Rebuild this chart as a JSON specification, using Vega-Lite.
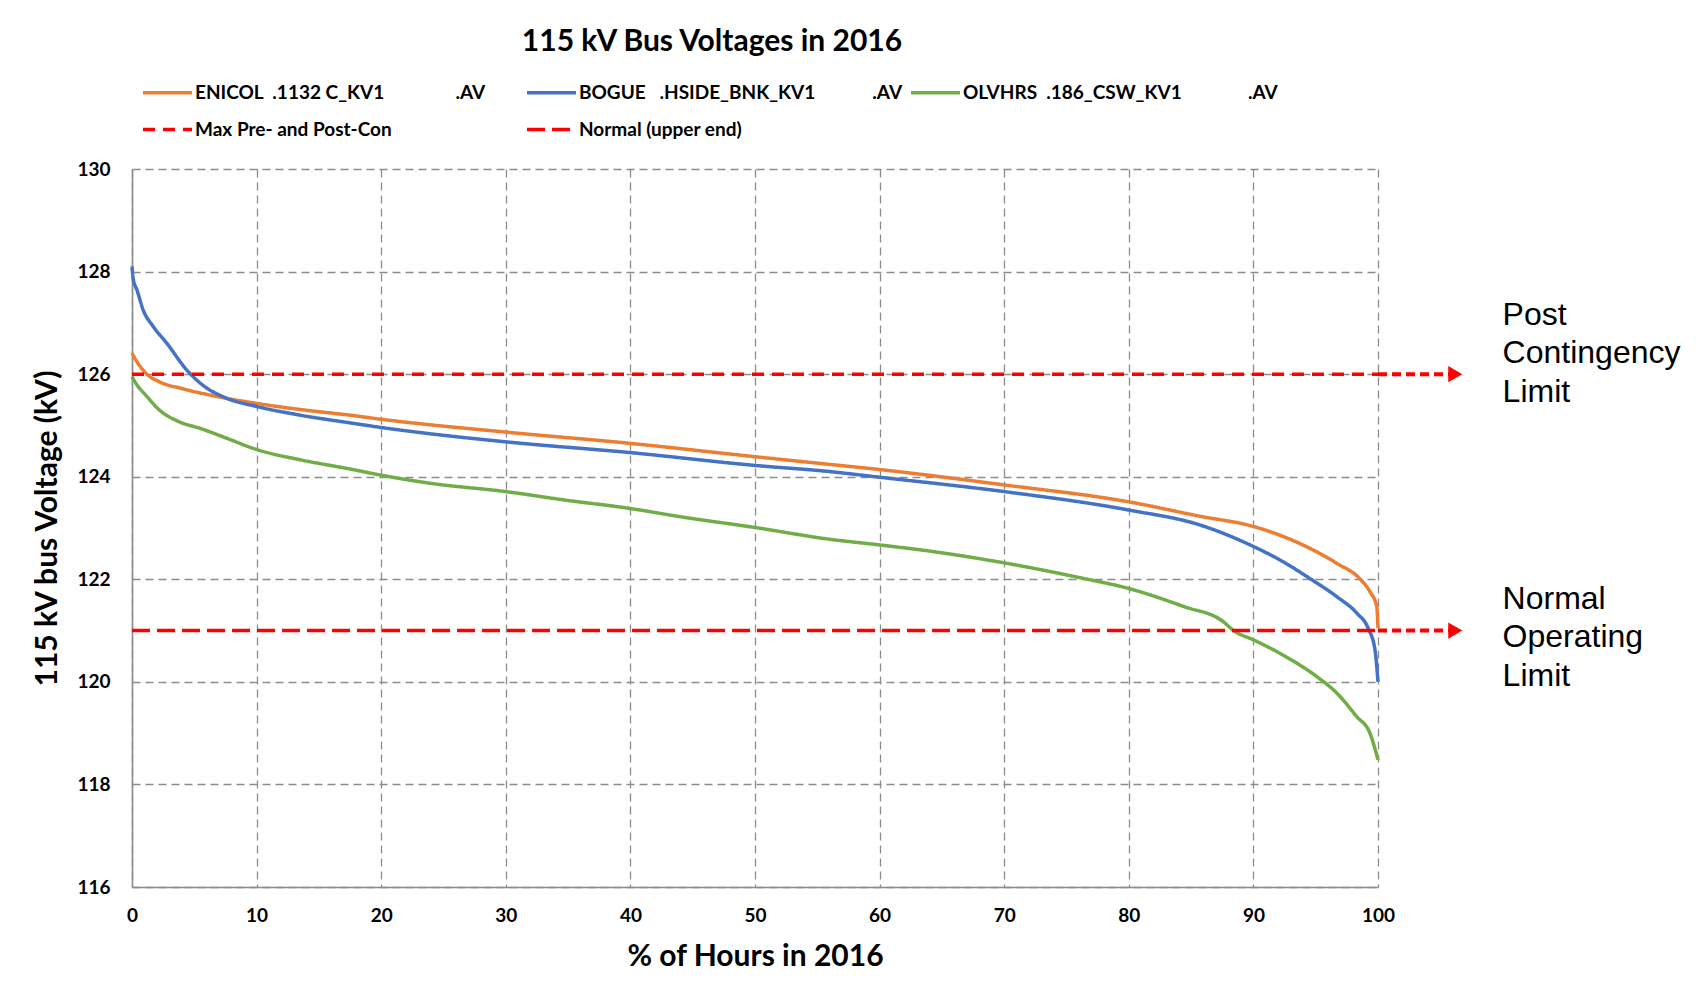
{
  "$schema": "https://vega.github.io/schema/vega-lite/v6.json",
  "width": 1246,
  "height": 718,
  "autosize": {"type": "none"},
  "padding": {"left": 132, "top": 169, "right": 323, "bottom": 105},
  "background": "white",
  "config": {
    "font": "Lato",
    "view": {"stroke": null},
    "axis": {
      "grid": true,
      "gridColor": "#8c8c8c",
      "gridDash": [8, 5],
      "gridWidth": 1.3,
      "domainColor": "#8c8c8c",
      "domainWidth": 1.6,
      "ticks": false,
      "labelFont": "Lato",
      "labelFontSize": 19,
      "labelFontWeight": "bold",
      "labelColor": "#000000",
      "labelFlush": false,
      "titleFont": "Lato",
      "titleFontSize": 30,
      "titleFontWeight": "bold",
      "titleColor": "#000000"
    }
  },
  "title": {
    "text": "115 kV Bus Voltages in 2016",
    "font": "Lato",
    "fontSize": 30,
    "fontWeight": "bold",
    "color": "#000000",
    "anchor": "middle",
    "frame": "group",
    "dx": -43,
    "offset": 9
  },
  "datasets": {
    "curves": [
      {"pct": 0, "kv": 126.41, "series": "ENICOL"},
      {"pct": 0.4, "kv": 126.24, "series": "ENICOL"},
      {"pct": 1.1, "kv": 126.02, "series": "ENICOL"},
      {"pct": 2.2, "kv": 125.85, "series": "ENICOL"},
      {"pct": 4.0, "kv": 125.72, "series": "ENICOL"},
      {"pct": 6.7, "kv": 125.57, "series": "ENICOL"},
      {"pct": 10, "kv": 125.43, "series": "ENICOL"},
      {"pct": 13.5, "kv": 125.31, "series": "ENICOL"},
      {"pct": 17.5, "kv": 125.2, "series": "ENICOL"},
      {"pct": 20, "kv": 125.12, "series": "ENICOL"},
      {"pct": 30, "kv": 124.87, "series": "ENICOL"},
      {"pct": 40, "kv": 124.65, "series": "ENICOL"},
      {"pct": 50, "kv": 124.39, "series": "ENICOL"},
      {"pct": 56, "kv": 124.24, "series": "ENICOL"},
      {"pct": 60, "kv": 124.14, "series": "ENICOL"},
      {"pct": 70, "kv": 123.84, "series": "ENICOL"},
      {"pct": 80, "kv": 123.51, "series": "ENICOL"},
      {"pct": 85.7, "kv": 123.23, "series": "ENICOL"},
      {"pct": 90, "kv": 123.03, "series": "ENICOL"},
      {"pct": 93.7, "kv": 122.7, "series": "ENICOL"},
      {"pct": 96.7, "kv": 122.31, "series": "ENICOL"},
      {"pct": 98.5, "kv": 122.02, "series": "ENICOL"},
      {"pct": 99.35, "kv": 121.76, "series": "ENICOL"},
      {"pct": 99.9, "kv": 121.47, "series": "ENICOL"},
      {"pct": 100, "kv": 121.05, "series": "ENICOL"},

      {"pct": 0, "kv": 128.1, "series": "BOGUE"},
      {"pct": 0.1, "kv": 127.85, "series": "BOGUE"},
      {"pct": 0.4, "kv": 127.64, "series": "BOGUE"},
      {"pct": 0.9, "kv": 127.25, "series": "BOGUE"},
      {"pct": 1.7, "kv": 126.93, "series": "BOGUE"},
      {"pct": 2.8, "kv": 126.6, "series": "BOGUE"},
      {"pct": 4.4, "kv": 126.08, "series": "BOGUE"},
      {"pct": 5.5, "kv": 125.82, "series": "BOGUE"},
      {"pct": 7.6, "kv": 125.53, "series": "BOGUE"},
      {"pct": 10, "kv": 125.37, "series": "BOGUE"},
      {"pct": 13.5, "kv": 125.2, "series": "BOGUE"},
      {"pct": 17.5, "kv": 125.05, "series": "BOGUE"},
      {"pct": 20, "kv": 124.96, "series": "BOGUE"},
      {"pct": 30, "kv": 124.68, "series": "BOGUE"},
      {"pct": 40, "kv": 124.47, "series": "BOGUE"},
      {"pct": 50, "kv": 124.22, "series": "BOGUE"},
      {"pct": 56, "kv": 124.1, "series": "BOGUE"},
      {"pct": 60, "kv": 123.99, "series": "BOGUE"},
      {"pct": 70, "kv": 123.71, "series": "BOGUE"},
      {"pct": 80, "kv": 123.35, "series": "BOGUE"},
      {"pct": 85.7, "kv": 123.06, "series": "BOGUE"},
      {"pct": 90, "kv": 122.64, "series": "BOGUE"},
      {"pct": 92.4, "kv": 122.34, "series": "BOGUE"},
      {"pct": 94.5, "kv": 122.02, "series": "BOGUE"},
      {"pct": 96.7, "kv": 121.66, "series": "BOGUE"},
      {"pct": 98.3, "kv": 121.34, "series": "BOGUE"},
      {"pct": 99.2, "kv": 121.05, "series": "BOGUE"},
      {"pct": 99.76, "kv": 120.62, "series": "BOGUE"},
      {"pct": 100, "kv": 120.0, "series": "BOGUE"},

      {"pct": 0, "kv": 125.95, "series": "OLVHRS"},
      {"pct": 0.4, "kv": 125.79, "series": "OLVHRS"},
      {"pct": 1.1, "kv": 125.59, "series": "OLVHRS"},
      {"pct": 2.2, "kv": 125.3, "series": "OLVHRS"},
      {"pct": 3.8, "kv": 125.07, "series": "OLVHRS"},
      {"pct": 5.5, "kv": 124.94, "series": "OLVHRS"},
      {"pct": 7.6, "kv": 124.75, "series": "OLVHRS"},
      {"pct": 10, "kv": 124.53, "series": "OLVHRS"},
      {"pct": 13.5, "kv": 124.33, "series": "OLVHRS"},
      {"pct": 17.5, "kv": 124.15, "series": "OLVHRS"},
      {"pct": 20, "kv": 124.03, "series": "OLVHRS"},
      {"pct": 24, "kv": 123.87, "series": "OLVHRS"},
      {"pct": 30, "kv": 123.71, "series": "OLVHRS"},
      {"pct": 34.6, "kv": 123.55, "series": "OLVHRS"},
      {"pct": 40, "kv": 123.38, "series": "OLVHRS"},
      {"pct": 44, "kv": 123.22, "series": "OLVHRS"},
      {"pct": 50, "kv": 123.01, "series": "OLVHRS"},
      {"pct": 56, "kv": 122.78, "series": "OLVHRS"},
      {"pct": 60, "kv": 122.67, "series": "OLVHRS"},
      {"pct": 64.3, "kv": 122.54, "series": "OLVHRS"},
      {"pct": 70, "kv": 122.32, "series": "OLVHRS"},
      {"pct": 76.3, "kv": 122.02, "series": "OLVHRS"},
      {"pct": 80, "kv": 121.82, "series": "OLVHRS"},
      {"pct": 84.4, "kv": 121.47, "series": "OLVHRS"},
      {"pct": 87.6, "kv": 121.17, "series": "OLVHRS"},
      {"pct": 88.4, "kv": 121.0, "series": "OLVHRS"},
      {"pct": 90, "kv": 120.82, "series": "OLVHRS"},
      {"pct": 92.4, "kv": 120.52, "series": "OLVHRS"},
      {"pct": 95.1, "kv": 120.1, "series": "OLVHRS"},
      {"pct": 96.7, "kv": 119.78, "series": "OLVHRS"},
      {"pct": 98.3, "kv": 119.32, "series": "OLVHRS"},
      {"pct": 99.35, "kv": 119.0, "series": "OLVHRS"},
      {"pct": 100, "kv": 118.48, "series": "OLVHRS"},

      {"pct": 0, "kv": 126, "series": "Max"},
      {"pct": 100, "kv": 126, "series": "Max"},
      {"pct": 0, "kv": 121, "series": "Normal"},
      {"pct": 100, "kv": 121, "series": "Normal"}
    ],
    "limits": [
      {"limit": 126},
      {"limit": 121}
    ]
  },
  "layer": [
    {
      "data": {"name": "curves"},
      "mark": {"type": "line", "interpolate": "monotone"},
      "encoding": {
        "x": {
          "field": "pct",
          "type": "quantitative",
          "scale": {"domain": [0, 100], "nice": false, "zero": false},
          "axis": {"values": [0, 10, 20, 30, 40, 50, 60, 70, 80, 90, 100], "title": "% of Hours in 2016", "labelPadding": 19, "titlePadding": 16}
        },
        "y": {
          "field": "kv",
          "type": "quantitative",
          "scale": {"domain": [116, 130], "nice": false, "zero": false},
          "axis": {"values": [116, 118, 120, 122, 124, 126, 128, 130], "title": "115 kV bus Voltage (kV)", "labelPadding": 22, "titlePadding": 14}
        },
        "color": {
          "field": "series",
          "type": "nominal",
          "scale": {
            "domain": ["ENICOL", "BOGUE", "OLVHRS", "Max", "Normal"],
            "range": ["#ED7D31", "#4472C4", "#70AD47", "#FF0000", "#FF0000"]
          },
          "legend": {
            "title": null,
            "orient": "none",
            "direction": "horizontal",
            "legendX": 9,
            "legendY": -103,
            "columns": 3,
            "gridAlign": "all",
            "columnPadding": 1,
            "rowPadding": 0,
            "symbolType": "stroke",
            "symbolSize": 2401,
            "symbolStrokeWidth": 3.5,
            "labelOffset": 1,
            "labelFont": "Lato",
            "labelFontSize": 19,
            "labelFontWeight": "bold",
            "labelColor": "#000000",
            "labelLimit": 1000,
            "labelExpr": "datum.value == 'ENICOL' ? 'ENICOL\u00a0\u00a0.1132 C_KV1\u2003\u2003\u2003\u2003\u2003.AV' : datum.value == 'BOGUE' ? 'BOGUE\u00a0\u00a0\u00a0.HSIDE_BNK_KV1\u2003\u2003\u2003\u2003.AV' : datum.value == 'OLVHRS' ? 'OLVHRS\u00a0\u00a0.186_CSW_KV1\u2003\u2003\u2003\u2003\u00a0\u00a0.AV' : datum.value == 'Max' ? 'Max Pre- and Post-Con' : 'Normal (upper end)'"
          }
        },
        "strokeDash": {
          "field": "series",
          "type": "nominal",
          "scale": {
            "domain": ["ENICOL", "BOGUE", "OLVHRS", "Max", "Normal"],
            "range": [[1, 0], [1, 0], [1, 0], [12, 8], [18, 7]]
          }
        },
        "strokeWidth": {
          "field": "series",
          "type": "nominal",
          "scale": {
            "domain": ["ENICOL", "BOGUE", "OLVHRS", "Max", "Normal"],
            "range": [3.5, 3.5, 3.5, 4, 3]
          }
        }
      }
    },
    {
      "data": {"name": "limits"},
      "mark": {"type": "rule", "color": "#FF0000", "strokeWidth": 4, "strokeDash": [9, 5]},
      "encoding": {
        "x": {"datum": 100},
        "x2": {"datum": 105.8},
        "y": {"field": "limit", "type": "quantitative"}
      }
    },
    {
      "data": {"name": "limits"},
      "mark": {"type": "point", "shape": "triangle-right", "filled": true, "color": "#FF0000", "size": 260, "opacity": 1},
      "encoding": {
        "x": {"datum": 106.2},
        "y": {"field": "limit", "type": "quantitative"}
      }
    },
    {
      "data": {"values": [{}]},
      "mark": {"type": "text", "font": "Liberation Sans", "fontSize": 32, "align": "left", "baseline": "middle", "lineHeight": 38.5, "color": "#000000"},
      "encoding": {
        "x": {"datum": 110},
        "y": {"datum": 127.16},
        "text": {"value": ["Post", "Contingency", "Limit"]}
      }
    },
    {
      "data": {"values": [{}]},
      "mark": {"type": "text", "font": "Liberation Sans", "fontSize": 32, "align": "left", "baseline": "middle", "lineHeight": 38.5, "color": "#000000"},
      "encoding": {
        "x": {"datum": 110},
        "y": {"datum": 121.62},
        "text": {"value": ["Normal", "Operating", "Limit"]}
      }
    }
  ]
}
